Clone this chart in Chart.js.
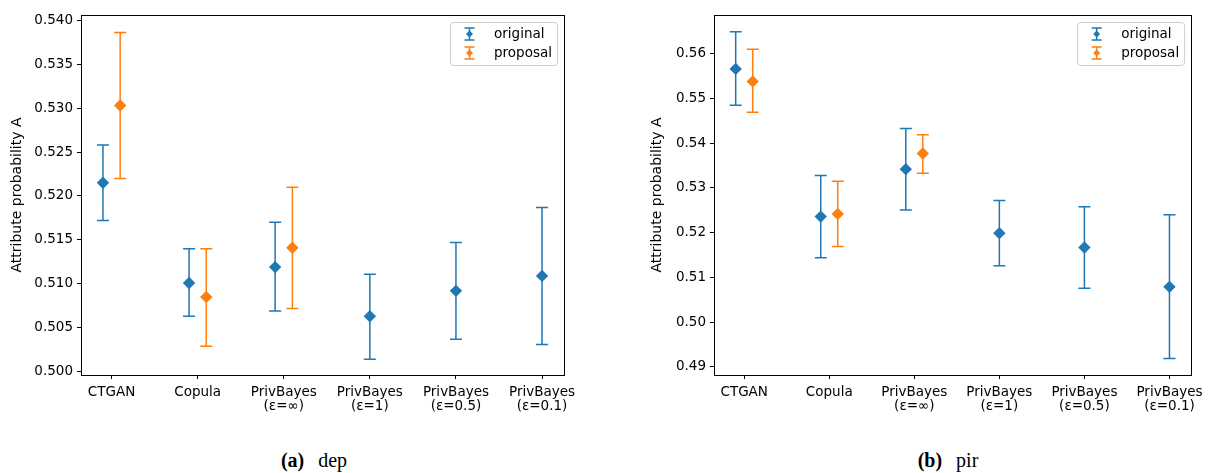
<!DOCTYPE html>
<html>
<head>
<meta charset="utf-8">
<script src="https://cdn.jsdelivr.net/npm/chart.js@4/dist/chart.umd.min.js"></script>
<style>
  body { margin: 0; background: #fff; width: 1209px; height: 473px; position: relative; overflow: hidden; }
  .panel { position: absolute; top: 0; height: 442px; }
  .caption { position: absolute; top: 449px; font-family: 'Liberation Serif', 'DejaVu Serif', serif; font-size: 20px; color: #000; transform: translateX(-50%); white-space: nowrap; }
  .caption b { margin-right: 14px; }
</style>
</head>
<body>
<div class="panel" style="left:0; width:604px;"><canvas id="depChart"></canvas></div>
<div class="panel" style="left:640px; width:569px;"><canvas id="pirChart"></canvas></div>
<div class="caption" style="left:314px;"><b>(a)</b>dep</div>
<div class="caption" style="left:948px;"><b>(b)</b>pir</div>
<script>
const categories = ['CTGAN', 'Copula', ['PrivBayes', '(ε=∞)'], ['PrivBayes', '(ε=1)'], ['PrivBayes', '(ε=0.5)'], ['PrivBayes', '(ε=0.1)']];
const seriesNames = ['original', 'proposal'];
const seriesColors = ['#1f77b4', '#ff7f0e'];

// dep
const depOriginalMean = [0.5215, 0.5101, 0.5119, 0.5063, 0.5092, 0.5109];
const depOriginalLow  = [0.5172, 0.5063, 0.5069, 0.5014, 0.5037, 0.5031];
const depOriginalHigh = [0.5258, 0.5140, 0.5170, 0.5111, 0.5147, 0.5187];
const depProposalMean = [0.5303, 0.5085, 0.5141, null, null, null];
const depProposalLow  = [0.5220, 0.5029, 0.5072, null, null, null];
const depProposalHigh = [0.5386, 0.5140, 0.5210, null, null, null];
const depTicks = [0.500, 0.505, 0.510, 0.515, 0.520, 0.525, 0.530, 0.535, 0.540];

// pir
const pirOriginalMean = [0.5566, 0.5236, 0.5342, 0.5199, 0.5167, 0.5079];
const pirOriginalLow  = [0.5485, 0.5144, 0.5251, 0.5126, 0.5076, 0.4919];
const pirOriginalHigh = [0.5649, 0.5328, 0.5433, 0.5272, 0.5258, 0.5240];
const pirProposalMean = [0.5538, 0.5242, 0.5377, null, null, null];
const pirProposalLow  = [0.5469, 0.5169, 0.5333, null, null, null];
const pirProposalHigh = [0.5610, 0.5315, 0.5419, null, null, null];
const pirTicks = [0.49, 0.50, 0.51, 0.52, 0.53, 0.54, 0.55, 0.56];

const FONT = 'DejaVu Sans';

// error bars drawn under the markers
const errorBars = {
    id: 'errorBars',
    beforeDatasetsDraw(chart) {
        const { ctx, scales: { x, y } } = chart;
        ctx.save();
        ctx.lineWidth = 1.5;
        chart.data.datasets.forEach(ds => {
            ctx.strokeStyle = ds.backgroundColor;
            ds.data.forEach(p => {
                const px = x.getPixelForValue(p.x);
                const top = y.getPixelForValue(p.hi);
                const bot = y.getPixelForValue(p.lo);
                ctx.beginPath();
                ctx.moveTo(px, top); ctx.lineTo(px, bot);
                ctx.moveTo(px - 6, top); ctx.lineTo(px + 6, top);
                ctx.moveTo(px - 6, bot); ctx.lineTo(px + 6, bot);
                ctx.stroke();
            });
        });
        ctx.restore();
    }
};

// frame on all four sides + legend box
const frameAndLegend = {
    id: 'frameAndLegend',
    afterDraw(chart) {
        const { ctx, chartArea: a } = chart;
        ctx.save();
        ctx.strokeStyle = '#000';
        ctx.lineWidth = 1;
        ctx.strokeRect(Math.round(a.left) + 0.5, Math.round(a.top) + 0.5, Math.round(a.right - a.left), Math.round(a.bottom - a.top));

        const w = 107, h = 43;
        const bx = a.right - 7 - w, by = a.top + 7;
        ctx.beginPath();
        ctx.roundRect(bx + 0.5, by + 0.5, w, h, 3);
        ctx.fillStyle = 'rgba(255,255,255,0.8)';
        ctx.fill();
        ctx.strokeStyle = '#cccccc';
        ctx.stroke();

        ctx.font = '13.5px "' + FONT + '"';
        ctx.textBaseline = 'middle';
        chart.data.datasets.forEach((ds, i) => {
            const cy = by + 12 + i * 19;
            const cx = bx + 19.5;
            ctx.strokeStyle = ds.backgroundColor;
            ctx.lineWidth = 1.5;
            ctx.beginPath();
            ctx.moveTo(cx, cy - 6); ctx.lineTo(cx, cy + 6);
            ctx.moveTo(cx - 5, cy - 6); ctx.lineTo(cx + 5, cy - 6);
            ctx.moveTo(cx - 5, cy + 6); ctx.lineTo(cx + 5, cy + 6);
            ctx.stroke();
            ctx.fillStyle = ds.backgroundColor;
            ctx.beginPath();
            ctx.moveTo(cx, cy - 3.5); ctx.lineTo(cx + 3.5, cy); ctx.lineTo(cx, cy + 3.5); ctx.lineTo(cx - 3.5, cy);
            ctx.closePath();
            ctx.fill();
            ctx.fillStyle = '#000';
            ctx.fillText(ds.label, bx + 44, cy);
        });
        ctx.restore();
    }
};

function buildPoints(means, lows, highs, otherMeans, side) {
    const pts = [];
    means.forEach((m, i) => {
        if (m === null) return;
        const paired = otherMeans[i] !== null;
        pts.push({ x: i + (paired ? side * 0.1 : 0), y: m, lo: lows[i], hi: highs[i] });
    });
    return pts;
}

function makeChart(id, orig, prop, ticks, yMin, yMax, decimals, yWidth, padRight) {
    const datasets = [orig, prop].map((s, k) => ({
        label: seriesNames[k],
        data: buildPoints(s[0], s[1], s[2], (k === 0 ? prop : orig)[0], k === 0 ? -1 : 1),
        backgroundColor: seriesColors[k],
        borderColor: seriesColors[k],
        borderWidth: 0,
        pointStyle: 'rectRot',
        pointRadius: 6.2,
        showLine: false
    }));
    return new Chart(document.getElementById(id), {
        type: 'scatter',
        data: { datasets },
        options: {
            responsive: true,
            maintainAspectRatio: false,
            animation: false,
            layout: { padding: { left: 0, top: 15, right: padRight, bottom: 0 } },
            plugins: { legend: { display: false }, tooltip: { enabled: false } },
            scales: {
                x: {
                    type: 'linear',
                    min: -0.355,
                    max: 5.255,
                    afterBuildTicks: s => { s.ticks = categories.map((c, i) => ({ value: i })); },
                    afterFit: s => { s.height = 67; },
                    grid: { display: true, drawOnChartArea: false, drawTicks: true, tickLength: 4, color: '#000' },
                    border: { display: true, color: '#000', width: 1 },
                    ticks: {
                        autoSkip: false, maxRotation: 0, padding: 6,
                        color: '#000',
                        font: { family: FONT, size: 13.5, lineHeight: 1.08 },
                        callback: v => categories[v]
                    }
                },
                y: {
                    min: yMin,
                    max: yMax,
                    afterBuildTicks: s => { s.ticks = ticks.map(v => ({ value: v })); },
                    afterFit: s => { s.width = yWidth; },
                    grid: { display: true, drawOnChartArea: false, drawTicks: true, tickLength: 4, color: '#000' },
                    border: { display: true, color: '#000', width: 1 },
                    ticks: {
                        padding: 4,
                        color: '#000',
                        font: { family: FONT, size: 13.5 },
                        callback: v => v.toFixed(decimals)
                    },
                    title: {
                        display: true,
                        text: 'Attribute probability A',
                        color: '#000',
                        font: { family: FONT, size: 14 },
                        padding: { top: 9, bottom: 0 }
                    }
                }
            }
        },
        plugins: [errorBars, frameAndLegend]
    });
}

makeChart('depChart',
    [depOriginalMean, depOriginalLow, depOriginalHigh],
    [depProposalMean, depProposalLow, depProposalHigh],
    depTicks, 0.49962, 0.5406, 3, 81, 40);

makeChart('pirChart',
    [pirOriginalMean, pirOriginalLow, pirOriginalHigh],
    [pirProposalMean, pirProposalLow, pirProposalHigh],
    pirTicks, 0.48821, 0.56864, 2, 74, 11);
</script>
</body>
</html>
